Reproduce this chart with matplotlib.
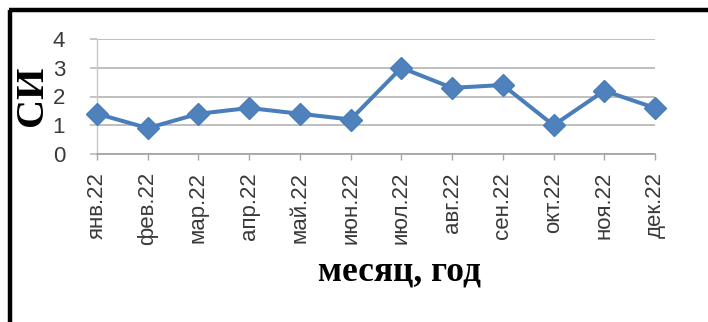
import matplotlib
matplotlib.use("Agg")
import matplotlib.pyplot as plt
from matplotlib.lines import Line2D

months = ["янв.22", "фев.22", "мар.22", "апр.22", "май.22", "июн.22",
          "июл.22", "авг.22", "сен.22", "окт.22", "ноя.22", "дек.22"]
si_values = [1.4, 0.9, 1.4, 1.6, 1.4, 1.2, 3.0, 2.3, 2.4, 1.0, 2.2, 1.6]
y_ticks = [0, 1, 2, 3, 4]

W, H = 708, 322
fig = plt.figure(figsize=(W / 100, H / 100), dpi=100)
fig.patch.set_facecolor("white")

ax = fig.add_axes([97 / W, 1 - 154 / H, (655 - 97) / W, (154 - 39) / H])
x = list(range(len(months)))
ax.plot(x, si_values, color="#4A7EBB", lw=2.9, marker="D", markersize=11,
        markerfacecolor="#4F81BD", markeredgecolor="#4A7EBB", zorder=3,
        clip_on=False)

ax.set_xlim(0, len(months) - 1)
ax.set_ylim(0, 4)
ax.set_yticks(y_ticks)
ax.set_xticks(x)
ax.set_xticklabels(months, rotation=90, fontsize=16, family="Liberation Sans",
                   color="#3A3A3A")
ax.set_yticklabels([str(v) for v in y_ticks], fontsize=16,
                   family="Liberation Sans", color="#3A3A3A")
ax.grid(axis="y", color="#BFBFBF", lw=1.4)
ax.set_axisbelow(True)
for s in ["top", "right"]:
    ax.spines[s].set_visible(False)
ax.spines["left"].set_color("#C8C8C8")
ax.spines["bottom"].set_color("#A6A6A6")
ax.spines["left"].set_linewidth(1.0)
ax.spines["bottom"].set_linewidth(1.3)
ax.tick_params(axis="y", length=5, color="#BFBFBF", width=1.3, pad=18)
ax.tick_params(axis="x", length=4, color="#A6A6A6", width=1.0, pad=9)

fig.text(33 / W, 1 - 96 / H, "СИ", rotation=90, ha="center", va="center",
         fontsize=29, fontweight="bold", family="Liberation Serif")
fig.text(399 / W, 1 - 272 / H, "месяц, год", ha="center", va="center",
         fontsize=25.5, fontweight="bold", family="Liberation Serif")

# black frame edges (left and top)
fig.add_artist(Line2D([10 / W, 10 / W], [0, 1 - 9.5 / H], transform=fig.transFigure,
                      color="black", lw=3.2, solid_capstyle="butt"))
fig.add_artist(Line2D([8.5 / W, 1], [1 - 9.5 / H, 1 - 9.5 / H], transform=fig.transFigure,
                      color="black", lw=3.2, solid_capstyle="butt"))

fig.savefig("out.png", dpi=100)
